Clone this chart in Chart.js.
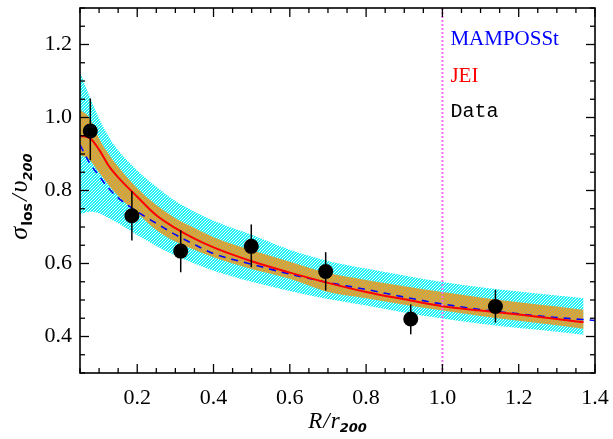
<!DOCTYPE html>
<html><head><meta charset="utf-8">
<script src="https://cdn.jsdelivr.net/npm/chart.js@4/dist/chart.umd.min.js"></script>
<style>html,body{margin:0;padding:0;background:#fff;}#wrap{width:613px;height:439px;position:relative;}</style>
</head><body><div id="wrap"><canvas id="c" width="613" height="439"></canvas></div>
<script>
// ---- data ----
const bandX      = [0.05, 0.075, 0.1, 0.125, 0.15, 0.2, 0.25, 0.3, 0.35, 0.4, 0.5, 0.6, 0.7, 0.8, 0.9, 1.0, 1.1, 1.2, 1.3, 1.37];
const mampUpper  = [1.125, 1.058, 0.997, 0.948, 0.910, 0.855, 0.810, 0.771, 0.742, 0.717, 0.679, 0.638, 0.607, 0.586, 0.567, 0.549, 0.535, 0.523, 0.512, 0.505];
const mampLower  = [0.735, 0.742, 0.738, 0.725, 0.710, 0.678, 0.648, 0.622, 0.600, 0.580, 0.550, 0.525, 0.503, 0.485, 0.466, 0.449, 0.435, 0.423, 0.413, 0.405];
const jeiUpper   = [1.022, 0.998, 0.942, 0.900, 0.865, 0.806, 0.760, 0.724, 0.697, 0.672, 0.636, 0.605, 0.574, 0.555, 0.538, 0.522, 0.507, 0.494, 0.482, 0.473];
const jeiLower   = [0.897, 0.884, 0.849, 0.815, 0.785, 0.738, 0.692, 0.660, 0.638, 0.617, 0.585, 0.558, 0.522, 0.505, 0.487, 0.471, 0.456, 0.443, 0.431, 0.421];
const jeiX       = [0.05, 0.065, 0.08, 0.1, 0.125, 0.15, 0.2, 0.25, 0.3, 0.35, 0.4, 0.5, 0.6, 0.7, 0.8, 0.9, 1.0, 1.1, 1.2, 1.3, 1.37];
const jeiY       = [0.949, 0.948, 0.940, 0.912, 0.868, 0.836, 0.783, 0.732, 0.697, 0.668, 0.644, 0.606, 0.575, 0.547, 0.522, 0.502, 0.483, 0.471, 0.460, 0.448, 0.439];
const mampX      = [0.05, 0.075, 0.1, 0.125, 0.15, 0.2, 0.25, 0.3, 0.35, 0.4, 0.5, 0.6, 0.7, 0.8, 0.9, 1.0, 1.1, 1.2, 1.3, 1.4];
const mampY      = [0.925, 0.876, 0.840, 0.806, 0.780, 0.742, 0.710, 0.679, 0.652, 0.627, 0.598, 0.571, 0.548, 0.529, 0.508, 0.489, 0.474, 0.462, 0.452, 0.444];
const dataR      = [0.077, 0.186, 0.314, 0.499, 0.694, 0.917, 1.139];
const dataSigma  = [0.963, 0.731, 0.634, 0.647, 0.578, 0.448, 0.482];
const dataErrLo  = [0.883, 0.663, 0.576, 0.590, 0.526, 0.406, 0.438];
const dataErrHi  = [1.052, 0.798, 0.691, 0.707, 0.631, 0.488, 0.528];
const xTicks     = [0.2, 0.4, 0.6, 0.8, 1.0, 1.2, 1.4];
const yTicks     = [0.4, 0.6, 0.8, 1.0, 1.2];
const xRange     = [0.05, 1.4];
const yRange     = [0.3, 1.3];
const refLineX   = 1.0;
const legendLabels = ['MAMPOSSt', 'JEI', 'Data'];

// ---- hatch patterns ----
function makePattern(colA, colB, n, period) {
  const c = document.createElement('canvas'); c.width = n; c.height = n;
  const g = c.getContext('2d');
  for (let i = 0; i < n; i++) for (let j = 0; j < n; j++) {
    g.fillStyle = ((i + j) % period === 0) ? colB : colA;
    g.fillRect(i, j, 1, 1);
  }
  return document.getElementById('c').getContext('2d').createPattern(c, 'repeat');
}
const cyanPat = makePattern('#20f0f8', '#e8ffff', 3, 3);
const orangePat = makePattern('#e4a52e', '#aaa868', 3, 3);

const pts = (xs, ys) => xs.map((x, i) => ({x: x, y: ys[i]}));

const deco = {
  id: 'deco',
  beforeDatasetDraw(chart, args) {
    if (args.index !== 6) return;
    const ctx = chart.ctx, xs = chart.scales.x, ys = chart.scales.y;
    ctx.save(); ctx.strokeStyle = '#000'; ctx.lineWidth = 1.5;
    dataR.forEach((r, i) => {
      const px = xs.getPixelForValue(r);
      ctx.beginPath();
      ctx.moveTo(px, ys.getPixelForValue(dataErrLo[i]));
      ctx.lineTo(px, ys.getPixelForValue(dataErrHi[i]));
      ctx.stroke();
    });
    ctx.restore();
  },
  afterDatasetsDraw(chart) {
    const ctx = chart.ctx, a = chart.chartArea, xs = chart.scales.x;
    const px = xs.getPixelForValue(refLineX);
    ctx.save(); ctx.strokeStyle = '#f070f0'; ctx.lineWidth = 2; ctx.setLineDash([2, 2]);
    ctx.beginPath(); ctx.moveTo(px, a.top); ctx.lineTo(px, a.bottom); ctx.stroke();
    ctx.restore();
  },
  afterDraw(chart) {
    const ctx = chart.ctx, a = chart.chartArea, xs = chart.scales.x, ys = chart.scales.y;
    ctx.save();
    ctx.strokeStyle = '#000'; ctx.lineWidth = 1.6;
    ctx.strokeRect(a.left, a.top, a.right - a.left, a.bottom - a.top);
    ctx.lineWidth = 1.3;
    const tick = (x1, y1, x2, y2) => { ctx.beginPath(); ctx.moveTo(x1, y1); ctx.lineTo(x2, y2); ctx.stroke(); };
    for (let k = 0; k <= 27; k++) {
      const v = xRange[0] + k * 0.05;
      const major = xTicks.some(t => Math.abs(t - v) < 1e-6);
      const L = major ? 9 : 5, px = xs.getPixelForValue(v);
      tick(px, a.bottom, px, a.bottom - L); tick(px, a.top, px, a.top + L);
    }
    for (let k = 0; k <= 20; k++) {
      const v = yRange[0] + k * 0.05;
      const major = yTicks.some(t => Math.abs(t - v) < 1e-6);
      const L = major ? 9 : 5, py = ys.getPixelForValue(v);
      tick(a.left, py, a.left + L, py); tick(a.right, py, a.right - L, py);
    }
    // legend texts
    ctx.textBaseline = 'alphabetic'; ctx.textAlign = 'left';
    const lx = xs.getPixelForValue(refLineX) + 8;
    ctx.font = "21px 'Liberation Serif'"; ctx.fillStyle = '#0000ff'; ctx.fillText(legendLabels[0], lx, a.top + 37);
    ctx.fillStyle = '#ff0000'; ctx.fillText(legendLabels[1], lx, a.top + 73.5);
    ctx.font = "20px 'Liberation Mono'"; ctx.fillStyle = '#000'; ctx.fillText(legendLabels[2], lx, a.top + 109);
    // axis titles
    const rich = (parts, cx, cy) => {
      let w = 0;
      parts.forEach(p => { ctx.font = p.f; p.w = ctx.measureText(p.t).width + (p.sp || 0); w += p.w; });
      let x = cx - w / 2;
      parts.forEach(p => { ctx.font = p.f; ctx.fillText(p.t, x, cy + (p.dy || 0)); x += p.w; });
    };
    ctx.fillStyle = '#000';
    const cxm = (a.left + a.right) / 2;
    rich([
      {t: 'R', f: "italic 23px 'Liberation Serif'", sp: 1},
      {t: '/', f: "italic 23px 'Liberation Serif'", sp: 1},
      {t: 'r', f: "italic 23px 'Liberation Serif'"},
      {t: '200', f: "bold italic 13px 'DejaVu Sans'", dy: 4}
    ], cxm, 428);
    ctx.save();
    ctx.translate(27, (a.top + a.bottom) / 2 + 6);
    ctx.rotate(-Math.PI / 2);
    rich([
      {t: 'σ', f: "italic 26px 'Liberation Serif'", sp: 1},
      {t: 'los', f: "bold 14px 'DejaVu Sans'", dy: 5, sp: 2},
      {t: '/', f: "italic 24px 'Liberation Serif'", sp: 2},
      {t: 'υ', f: "italic 26px 'Liberation Serif'"},
      {t: '200', f: "bold italic 13px 'DejaVu Sans'", dy: 5}
    ], 0, 0);
    ctx.restore();
    ctx.restore();
  }
};

new Chart(document.getElementById('c'), {
  type: 'line',
  data: {
    datasets: [
      {data: pts(bandX, mampUpper), fill: '+1', backgroundColor: cyanPat, borderWidth: 0, pointRadius: 0, cubicInterpolationMode: 'monotone', order: 5},
      {data: pts(bandX, mampLower), fill: false, borderWidth: 0, pointRadius: 0, cubicInterpolationMode: 'monotone', order: 5},
      {data: pts(bandX, jeiUpper), fill: '+1', backgroundColor: orangePat, borderWidth: 0, pointRadius: 0, cubicInterpolationMode: 'monotone', order: 4},
      {data: pts(bandX, jeiLower), fill: false, borderWidth: 0, pointRadius: 0, cubicInterpolationMode: 'monotone', order: 4},
      {label: legendLabels[0], data: pts(mampX, mampY), borderColor: '#0000ff', borderWidth: 1.6, borderDash: [7, 6], pointRadius: 0, fill: false, cubicInterpolationMode: 'monotone', order: 3},
      {label: legendLabels[1], data: pts(jeiX, jeiY), borderColor: '#ff0000', borderWidth: 2, pointRadius: 0, fill: false, cubicInterpolationMode: 'monotone', order: 2},
      {label: legendLabels[2], data: pts(dataR, dataSigma), showLine: false, pointRadius: 7.5, pointBackgroundColor: '#000', pointBorderWidth: 0, order: 1}
    ]
  },
  options: {
    responsive: false, animation: false, devicePixelRatio: 1,
    layout: {padding: {top: 8, right: 18, left: 0, bottom: 0}},
    plugins: {legend: {display: false}, tooltip: {enabled: false}},
    scales: {
      x: {type: 'linear', min: xRange[0], max: xRange[1],
          afterBuildTicks: s => { s.ticks = xTicks.map(v => ({value: v})); },
          afterFit: s => { s.height = 66; s.paddingLeft = 0; s.paddingRight = 0; },
          grid: {display: false, drawTicks: false}, border: {display: false},
          ticks: {padding: 12, color: '#000', font: {family: 'Liberation Serif', size: 22}, callback: v => v.toFixed(1)}},
      y: {type: 'linear', min: yRange[0], max: yRange[1],
          afterBuildTicks: s => { s.ticks = yTicks.map(v => ({value: v})); },
          afterFit: s => { s.width = 80; s.paddingTop = 0; s.paddingBottom = 0; },
          grid: {display: false, drawTicks: false}, border: {display: false},
          ticks: {padding: 8, color: '#000', font: {family: 'Liberation Serif', size: 22}, callback: v => v.toFixed(1)}}
    }
  },
  plugins: [deco]
});
</script></body></html>
